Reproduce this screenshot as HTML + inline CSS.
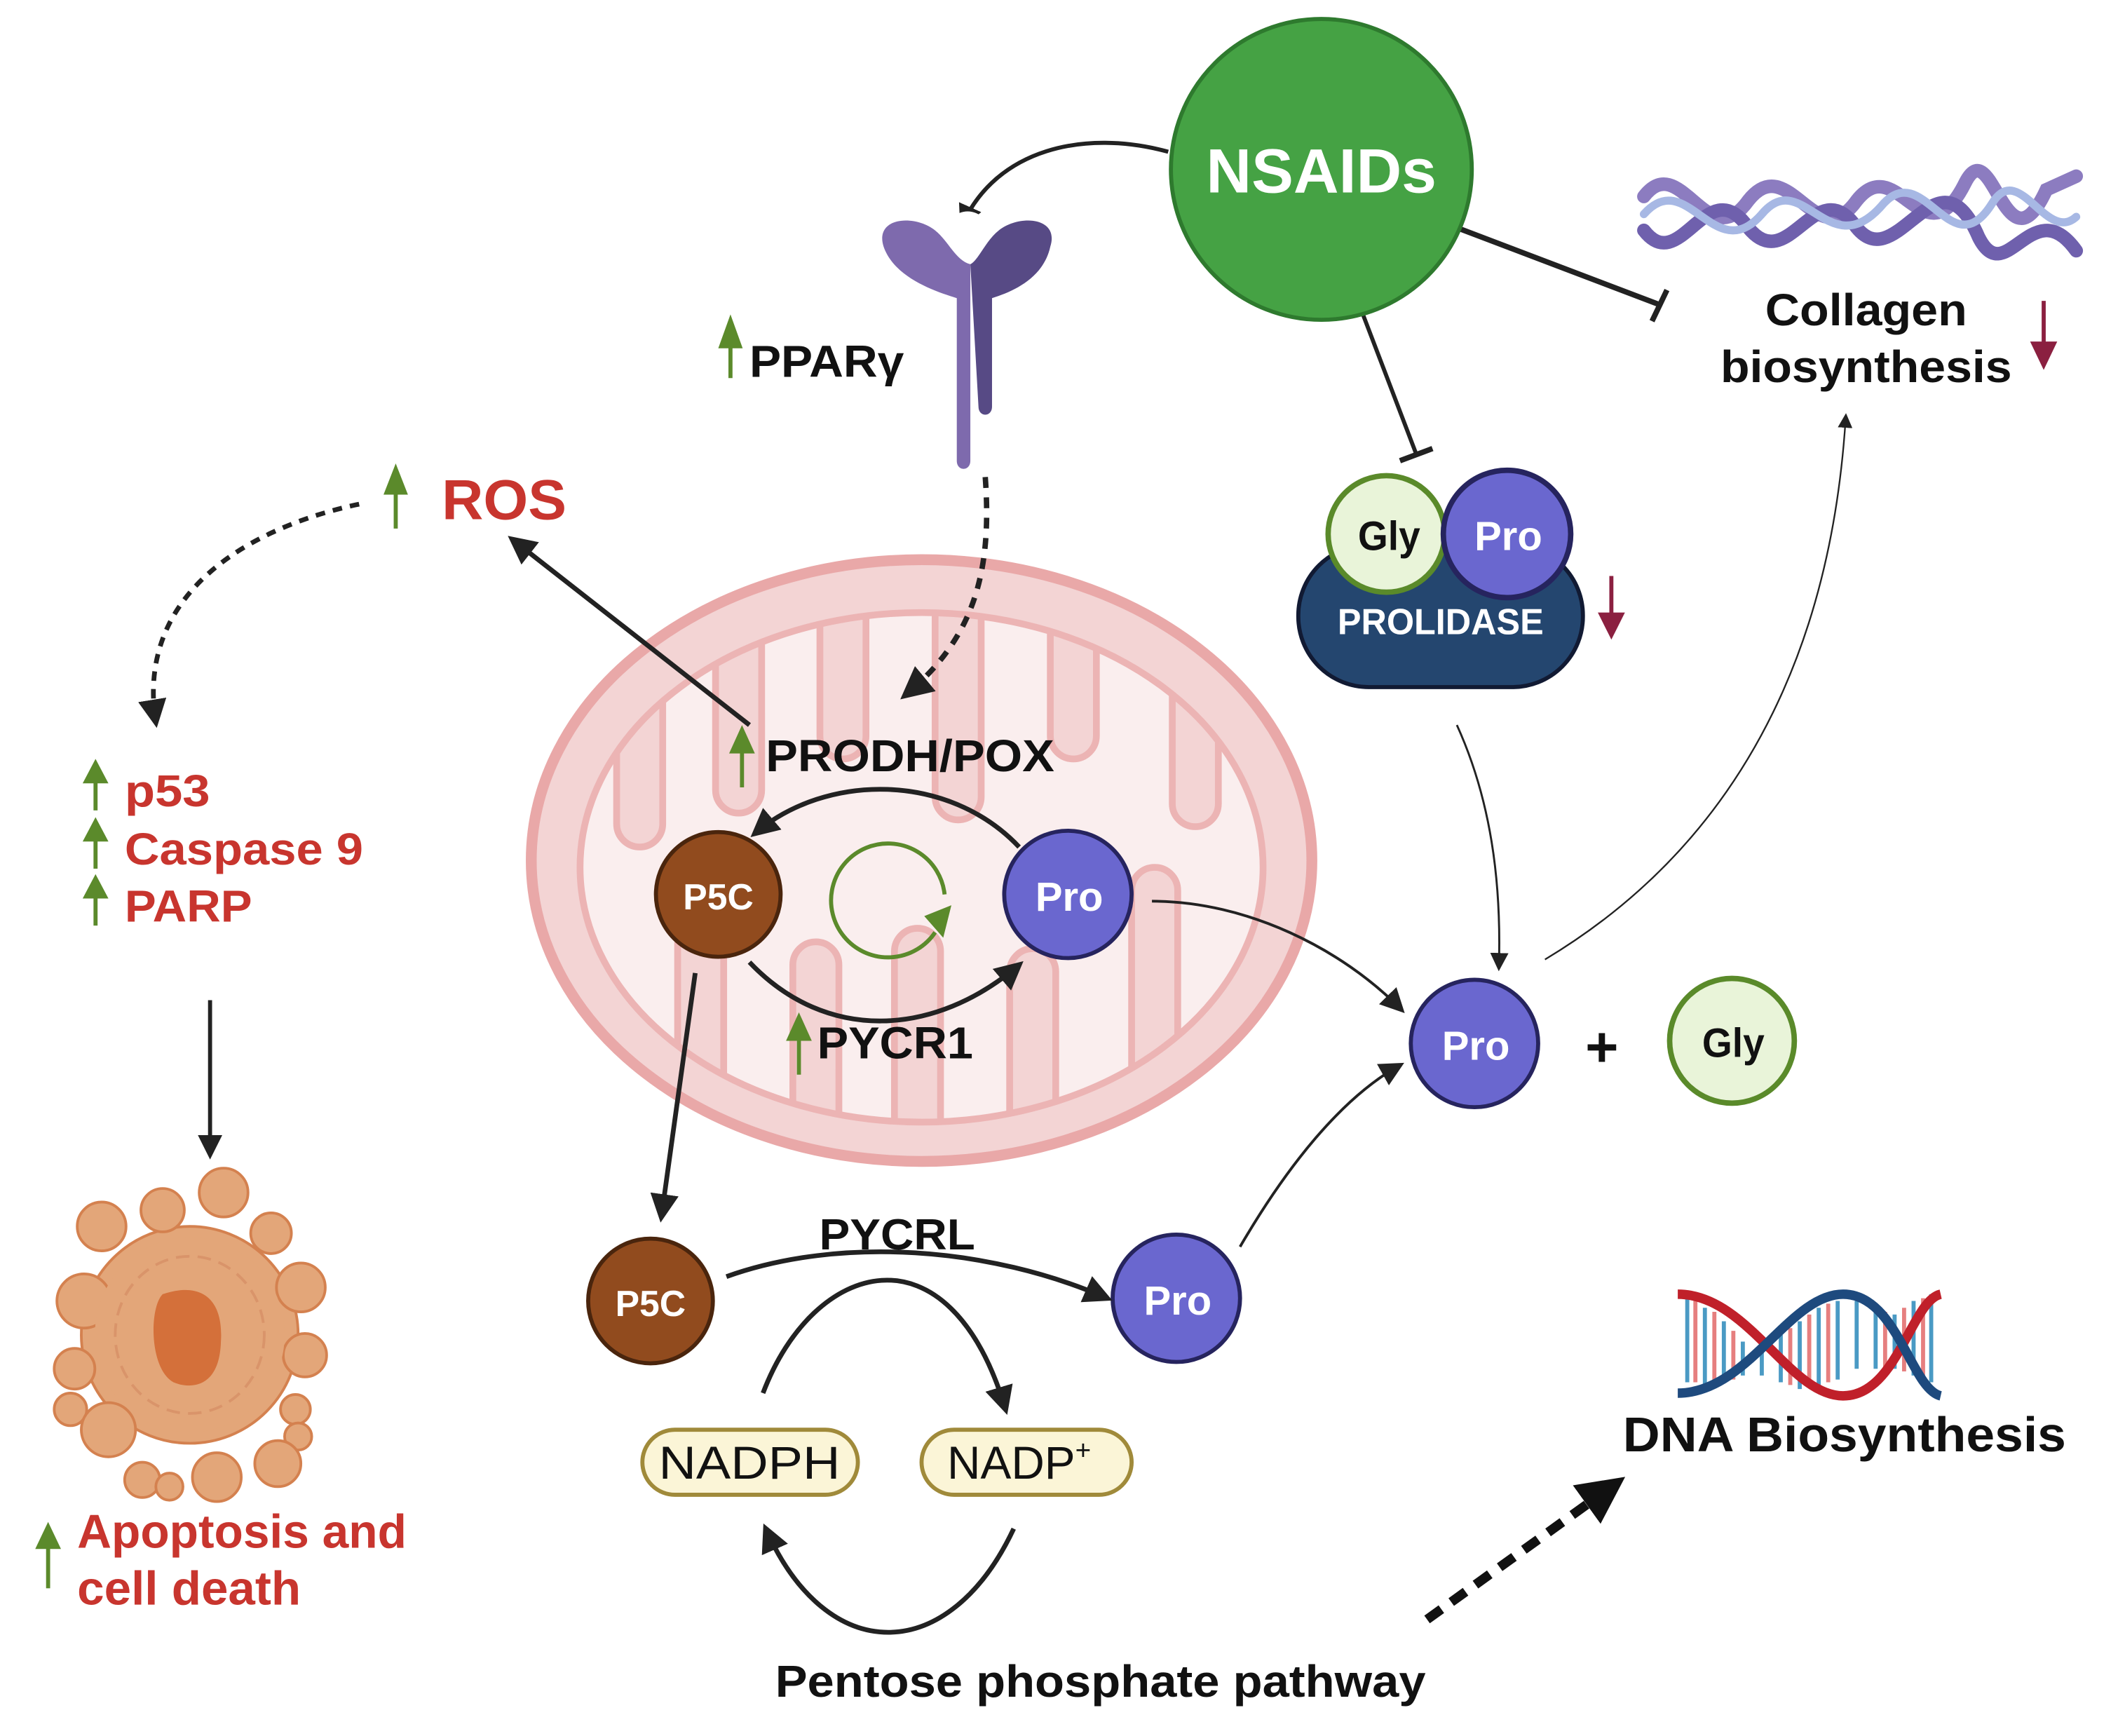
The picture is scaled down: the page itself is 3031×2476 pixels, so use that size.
<!DOCTYPE html>
<html><head><meta charset="utf-8"><style>
html,body{margin:0;padding:0;background:#fff}
svg{display:block}
text{font-family:"Liberation Sans Narrow","Liberation Sans",sans-serif;font-weight:bold}
</style></head><body>
<svg width="3031" height="2476" viewBox="0 0 1568 1281" preserveAspectRatio="none" xmlns="http://www.w3.org/2000/svg">
<defs>
<marker id="ah" viewBox="0 0 10 10" refX="8" refY="5" markerWidth="6" markerHeight="6" orient="auto-start-reverse"><path d="M0,0 L10,5 L0,10 z" fill="#222"/></marker>
<marker id="ahs" viewBox="0 0 10 10" refX="8" refY="5" markerWidth="9" markerHeight="9" orient="auto"><path d="M0,0 L10,5 L0,10 z" fill="#222"/></marker>
<marker id="ahb" viewBox="0 0 10 10" refX="5" refY="5" markerWidth="5" markerHeight="5" orient="auto"><path d="M0,0 L10,5 L0,10 z" fill="#111"/></marker>
<clipPath id="inner"><ellipse cx="680" cy="640" rx="252" ry="188"/></clipPath>
</defs>

<!-- Mitochondrion -->
<ellipse cx="680" cy="635" rx="288" ry="222" fill="#f3d4d4" stroke="#e9a8a8" stroke-width="8"/>
<ellipse cx="680" cy="640" rx="252" ry="188" fill="#faeeee"/>
<g clip-path="url(#inner)" fill="#f3d4d4" stroke="#ecb4b4" stroke-width="5">
<rect x="455" y="380" width="34" height="245" rx="17"/>
<rect x="528" y="380" width="34" height="220" rx="17"/>
<rect x="605" y="380" width="34" height="180" rx="17"/>
<rect x="690" y="380" width="34" height="225" rx="17"/>
<rect x="775" y="380" width="34" height="180" rx="17"/>
<rect x="865" y="380" width="34" height="230" rx="17"/>
<rect x="500" y="680" width="34" height="220" rx="17"/>
<rect x="585" y="695" width="34" height="200" rx="17"/>
<rect x="660" y="685" width="34" height="220" rx="17"/>
<rect x="745" y="700" width="34" height="200" rx="17"/>
<rect x="835" y="640" width="34" height="260" rx="17"/>
</g>
<ellipse cx="680" cy="640" rx="252" ry="188" fill="none" stroke="#ecb4b4" stroke-width="5"/>

<!-- NSAIDs -->
<line x1="1075" y1="168" x2="1225" y2="225" stroke="#222" stroke-width="4"/>
<line x1="1219" y1="237" x2="1230" y2="214" stroke="#222" stroke-width="4"/>
<line x1="1003" y1="225" x2="1045" y2="335" stroke="#222" stroke-width="3"/>
<line x1="1033" y1="340" x2="1057" y2="331" stroke="#222" stroke-width="4"/>
<circle cx="975" cy="125" r="111" fill="#45a244" stroke="#2e7a2e" stroke-width="3"/>
<text x="975" y="142" font-size="46" fill="#fff" text-anchor="middle" textLength="170" lengthAdjust="spacingAndGlyphs">NSAIDs</text>
<path d="M862,112 C800,95 735,110 710,166" fill="none" stroke="#222" stroke-width="3" marker-end="url(#ah)"/>

<!-- collagen -->
<g fill="none" stroke-linecap="round">
<path d="M1213,145 C1240,110 1260,190 1290,148 C1320,110 1340,190 1370,148 C1400,110 1420,195 1450,135 C1470,95 1480,205 1510,140 L1532,130" stroke="#8c7cc0" stroke-width="10"/>
<path d="M1213,170 C1240,205 1260,125 1290,168 C1320,205 1340,125 1370,168 C1400,205 1430,105 1460,175 C1480,215 1500,140 1532,185" stroke="#6f60ad" stroke-width="10"/>
<path d="M1213,158 C1245,122 1265,198 1300,158 C1330,122 1350,198 1390,150 C1420,118 1440,198 1470,150 C1490,118 1510,180 1532,160" stroke="#a7b8e4" stroke-width="6"/>
</g>
<text x="1377" y="240" font-size="33" fill="#111" text-anchor="middle" textLength="149" lengthAdjust="spacingAndGlyphs">Collagen</text>
<text x="1377" y="282" font-size="33" fill="#111" text-anchor="middle" textLength="215" lengthAdjust="spacingAndGlyphs">biosynthesis</text>
<line x1="1508" y1="222" x2="1508" y2="255" stroke="#8b2040" stroke-width="3"/>
<path d="M1498,252 L1518,252 L1508,273 z" fill="#8b2040"/>

<!-- Prolidase -->
<rect x="958" y="402" width="210" height="105" rx="52" fill="#24466f" stroke="#111a33" stroke-width="3"/>
<circle cx="1023" cy="394" r="43" fill="#e9f4d9" stroke="#5a8a2a" stroke-width="4"/>
<circle cx="1112" cy="394" r="47" fill="#6a67cf" stroke="#26245e" stroke-width="4"/>
<text x="1025" y="406" font-size="30" fill="#111" text-anchor="middle" textLength="46" lengthAdjust="spacingAndGlyphs">Gly</text>
<text x="1113" y="406" font-size="30" fill="#fff" text-anchor="middle" textLength="50" lengthAdjust="spacingAndGlyphs">Pro</text>
<text x="1063" y="468" font-size="27" fill="#fff" text-anchor="middle" textLength="152" lengthAdjust="spacingAndGlyphs">PROLIDASE</text>
<line x1="1189" y1="425" x2="1189" y2="455" stroke="#8b2040" stroke-width="3"/>
<path d="M1179,452 L1199,452 L1189,472 z" fill="#8b2040"/>

<!-- PPAR receptor -->
<path d="M652,182 C645,160 675,158 690,170 C700,178 705,192 716,195 L716,340 C716,348 706,348 706,340 L706,220 C690,215 660,205 652,182 z" fill="#7e6aad"/>
<path d="M775,182 C782,160 752,158 737,170 C727,178 722,192 716,195 L722,300 C722,308 732,308 732,300 L732,220 C748,215 770,205 775,182 z" fill="#574a85"/>
<circle cx="714" cy="172" r="16" fill="#fff"/>
<text x="553" y="278" font-size="33" fill="#111" textLength="114" lengthAdjust="spacingAndGlyphs">PPARγ</text>
<line x1="539" y1="255" x2="539" y2="279" stroke="#5b8a2b" stroke-width="3"/>
<path d="M530,257 L548,257 L539,232 z" fill="#5b8a2b"/>
<path d="M727,352 C732,420 720,470 668,513" fill="none" stroke="#222" stroke-width="4" stroke-dasharray="8,7" marker-end="url(#ah)"/>

<!-- ROS -->
<text x="326" y="383" font-size="42" fill="#c8352e" textLength="92" lengthAdjust="spacingAndGlyphs">ROS</text>
<line x1="292" y1="362" x2="292" y2="390" stroke="#5b8a2b" stroke-width="3"/>
<path d="M283,365 L301,365 L292,342 z" fill="#5b8a2b"/>
<path d="M265,372 C180,390 100,440 115,533" fill="none" stroke="#222" stroke-width="3.5" stroke-dasharray="7,6" marker-end="url(#ah)"/>
<line x1="553" y1="535" x2="378" y2="398" stroke="#222" stroke-width="3.5" marker-end="url(#ah)"/>

<!-- p53 etc -->
<g font-size="33" fill="#c8352e">
<text x="92" y="595" textLength="63" lengthAdjust="spacingAndGlyphs">p53</text>
<text x="92" y="638" textLength="176" lengthAdjust="spacingAndGlyphs">Caspase 9</text>
<text x="92" y="680" textLength="94" lengthAdjust="spacingAndGlyphs">PARP</text>
</g>
<g fill="#5b8a2b">
<rect x="69" y="576" width="3" height="22"/><path d="M61,578 L80,578 L70.5,560 z"/>
<rect x="69" y="619" width="3" height="22"/><path d="M61,621 L80,621 L70.5,603 z"/>
<rect x="69" y="661" width="3" height="22"/><path d="M61,663 L80,663 L70.5,645 z"/>
</g>
<line x1="155" y1="738" x2="155" y2="852" stroke="#222" stroke-width="3" marker-end="url(#ah)"/>

<!-- apoptotic cell -->
<g fill="#e3a679" stroke="#d4814f" stroke-width="2">
<circle cx="140" cy="985" r="80"/>
<circle cx="75" cy="905" r="18"/><circle cx="120" cy="893" r="16"/><circle cx="165" cy="880" r="18"/><circle cx="200" cy="910" r="15"/>
<circle cx="62" cy="960" r="20"/><circle cx="222" cy="950" r="18"/><circle cx="225" cy="1000" r="16"/>
<circle cx="55" cy="1010" r="15"/><circle cx="52" cy="1040" r="12"/><circle cx="218" cy="1040" r="11"/><circle cx="220" cy="1060" r="10"/>
<circle cx="80" cy="1055" r="20"/><circle cx="205" cy="1080" r="17"/><circle cx="105" cy="1092" r="13"/><circle cx="125" cy="1097" r="10"/>
<circle cx="160" cy="1090" r="18"/>
</g>
<ellipse cx="140" cy="985" rx="70" ry="72" fill="#e3a679"/>
<ellipse cx="140" cy="985" rx="55" ry="58" fill="none" stroke="#d9946a" stroke-width="2" stroke-dasharray="10,6"/>
<path d="M120,955 C150,945 165,960 163,990 C162,1025 140,1025 128,1020 C110,1010 110,965 120,955 z" fill="#d4703a"/>

<text x="57" y="1142" font-size="35" fill="#c8352e" textLength="243" lengthAdjust="spacingAndGlyphs">Apoptosis and</text>
<text x="57" y="1184" font-size="35" fill="#c8352e" textLength="165" lengthAdjust="spacingAndGlyphs">cell death</text>
<rect x="34" y="1140" width="3" height="32" fill="#5b8a2b"/>
<path d="M26,1143 L45,1143 L35.5,1123 z" fill="#5b8a2b"/>

<!-- Mito inner pathway -->
<text x="565" y="569" font-size="33" fill="#111" textLength="213" lengthAdjust="spacingAndGlyphs">PRODH/POX</text>
<rect x="546" y="553" width="3" height="28" fill="#5b8a2b"/>
<path d="M538,556 L557,556 L547.5,535 z" fill="#5b8a2b"/>
<path d="M752,625 C700,570 610,570 557,615" fill="none" stroke="#222" stroke-width="3.5" marker-end="url(#ah)"/>
<path d="M553,710 C610,770 690,765 752,712" fill="none" stroke="#222" stroke-width="3.5" marker-end="url(#ah)"/>
<circle cx="530" cy="660" r="46" fill="#914b1e" stroke="#4a250d" stroke-width="3"/>
<text x="530" y="671" font-size="27" fill="#fff" text-anchor="middle" textLength="52" lengthAdjust="spacingAndGlyphs">P5C</text>
<circle cx="788" cy="660" r="47" fill="#6a67cf" stroke="#26245e" stroke-width="3"/>
<text x="789" y="672" font-size="30" fill="#fff" text-anchor="middle" textLength="50" lengthAdjust="spacingAndGlyphs">Pro</text>
<path d="M697,660 A42,42 0 1 0 690,688" fill="none" stroke="#5b8a2b" stroke-width="3"/>
<path d="M682,676 L702,668 L696,692 z" fill="#5b8a2b"/>
<text x="603" y="781" font-size="33" fill="#111" textLength="115" lengthAdjust="spacingAndGlyphs">PYCR1</text>
<rect x="588" y="765" width="3" height="28" fill="#5b8a2b"/>
<path d="M580,768 L599,768 L589.5,747 z" fill="#5b8a2b"/>
<line x1="513" y1="718" x2="488" y2="898" stroke="#222" stroke-width="3.5" marker-end="url(#ah)"/>

<!-- Pro + Gly -->
<path d="M850,665 C920,665 990,700 1034,745" fill="none" stroke="#222" stroke-width="2" marker-end="url(#ahs)"/>
<path d="M1075,535 C1100,590 1108,650 1106,714" fill="none" stroke="#222" stroke-width="1.5" marker-end="url(#ahs)"/>
<path d="M1140,708 C1320,600 1355,420 1362,307" fill="none" stroke="#222" stroke-width="1.2" marker-end="url(#ahs)"/>
<path d="M915,920 C950,860 990,810 1033,786" fill="none" stroke="#222" stroke-width="2" marker-end="url(#ahs)"/>
<circle cx="1088" cy="770" r="47" fill="#6a67cf" stroke="#26245e" stroke-width="3"/>
<text x="1089" y="782" font-size="30" fill="#fff" text-anchor="middle" textLength="50" lengthAdjust="spacingAndGlyphs">Pro</text>
<text x="1182" y="787" font-size="42" fill="#111" text-anchor="middle">+</text>
<circle cx="1278" cy="768" r="46" fill="#e9f4d9" stroke="#5a8a2a" stroke-width="4"/>
<text x="1279" y="780" font-size="30" fill="#111" text-anchor="middle" textLength="46" lengthAdjust="spacingAndGlyphs">Gly</text>

<!-- lower pathway -->
<circle cx="480" cy="960" r="46" fill="#914b1e" stroke="#4a250d" stroke-width="3"/>
<text x="480" y="971" font-size="27" fill="#fff" text-anchor="middle" textLength="52" lengthAdjust="spacingAndGlyphs">P5C</text>
<circle cx="868" cy="958" r="47" fill="#6a67cf" stroke="#26245e" stroke-width="3"/>
<text x="869" y="970" font-size="30" fill="#fff" text-anchor="middle" textLength="50" lengthAdjust="spacingAndGlyphs">Pro</text>
<text x="662" y="922" font-size="32" fill="#111" text-anchor="middle" textLength="115" lengthAdjust="spacingAndGlyphs">PYCRL</text>
<path d="M536,942 C620,912 730,920 817,958" fill="none" stroke="#222" stroke-width="3.5" marker-end="url(#ah)"/>
<path d="M563,1028 C600,930 700,900 742,1040" fill="none" stroke="#222" stroke-width="3.5" marker-end="url(#ah)"/>
<path d="M748,1128 C700,1230 610,1230 565,1128" fill="none" stroke="#222" stroke-width="3.5" marker-end="url(#ah)"/>
<rect x="474" y="1055" width="159" height="48" rx="24" fill="#fbf5d7" stroke="#a08a3a" stroke-width="3"/>
<text x="553" y="1091" font-size="34" style="font-weight:normal" fill="#111" text-anchor="middle" textLength="134" lengthAdjust="spacingAndGlyphs">NADPH</text>
<rect x="680" y="1055" width="155" height="48" rx="24" fill="#fbf5d7" stroke="#a08a3a" stroke-width="3"/>
<text x="752" y="1091" font-size="34" style="font-weight:normal" fill="#111" text-anchor="middle">NADP<tspan font-size="20" dy="-14">+</tspan></text>
<text x="812" y="1252" font-size="33" fill="#111" text-anchor="middle" textLength="480" lengthAdjust="spacingAndGlyphs">Pentose phosphate pathway</text>
<line x1="1053" y1="1195" x2="1185" y2="1100" stroke="#111" stroke-width="7" stroke-dasharray="13,9" marker-end="url(#ahb)"/>

<!-- DNA -->
<g fill="none" stroke-width="3">
<path d="M1245,958 L1245,1020 M1258,965 L1258,1022 M1272,975 L1272,1020 M1286,990 L1286,1015 M1300,990 L1300,1015 M1314,985 L1314,1020 M1328,975 L1328,1025 M1342,965 L1342,1022 M1356,960 L1356,1018 M1370,960 L1370,1010 M1384,965 L1384,1010 M1398,970 L1398,1010 M1412,960 L1412,1015 M1425,955 L1425,1020" stroke="#4a9ac4"/>
<path d="M1251,960 L1251,1020 M1265,968 L1265,1022 M1279,982 L1279,1018 M1321,980 L1321,1022 M1335,970 L1335,1024 M1349,962 L1349,1020 M1391,968 L1391,1010 M1405,965 L1405,1012 M1419,958 L1419,1018" stroke="#e67f7f"/>
</g>
<path d="M1238,955 C1290,955 1320,1030 1360,1030 C1400,1030 1410,960 1432,955" fill="none" stroke="#c0202a" stroke-width="7"/>
<path d="M1238,1028 C1290,1028 1320,955 1360,955 C1400,955 1410,1025 1432,1030" fill="none" stroke="#1e4a7e" stroke-width="7"/>
<text x="1361" y="1071" font-size="36" fill="#111" text-anchor="middle" textLength="327" lengthAdjust="spacingAndGlyphs">DNA Biosynthesis</text>
</svg>
</body></html>
